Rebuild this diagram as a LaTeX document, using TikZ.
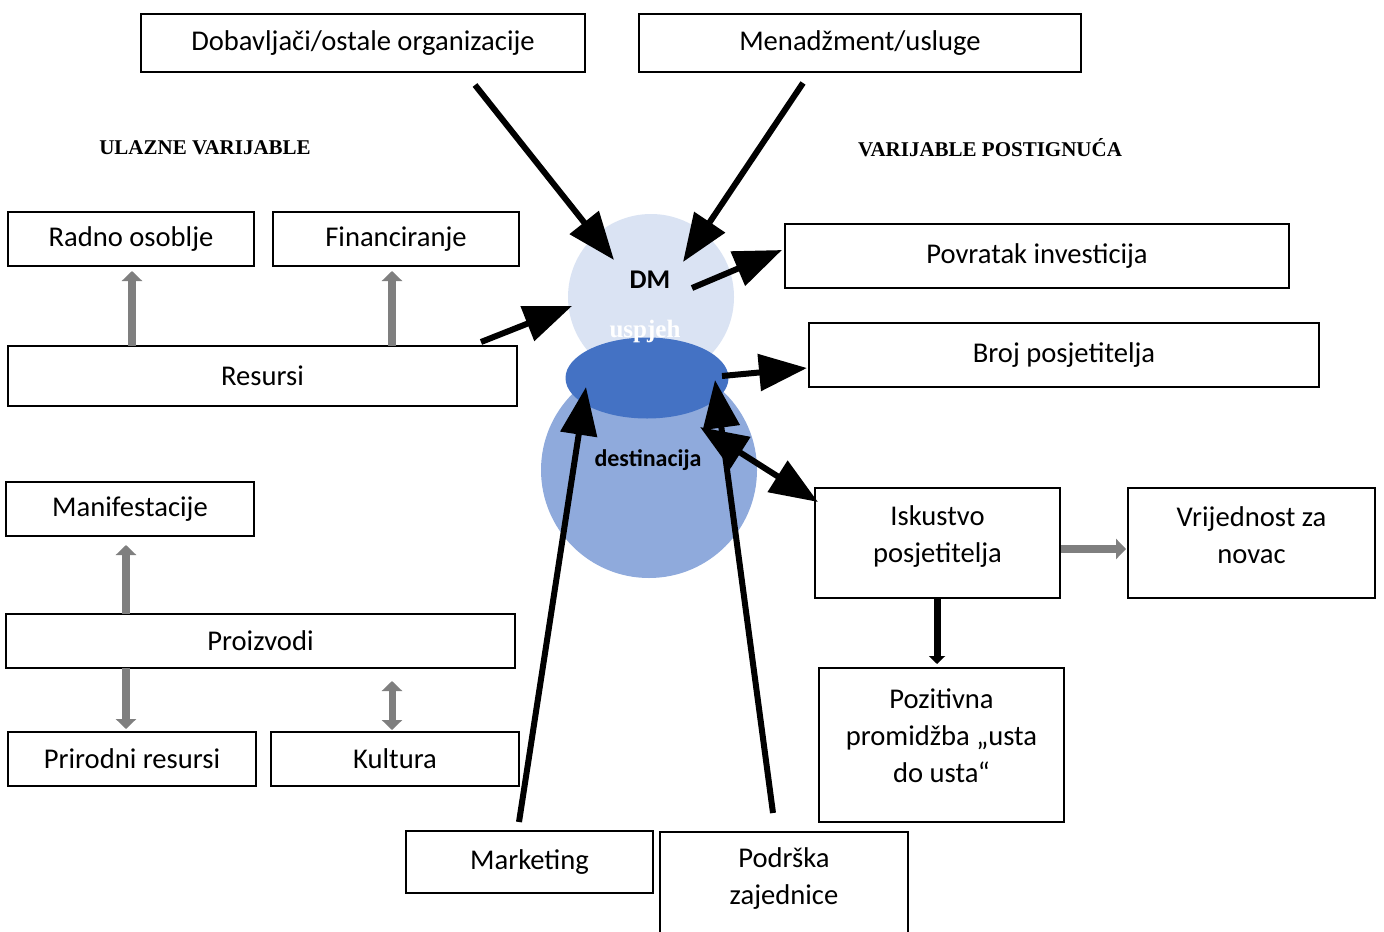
\documentclass[tikz,border=0pt]{standalone}
\usepackage{fontspec}
\setmainfont{Carlito}
\newfontfamily\headfont{Liberation Serif}
\usetikzlibrary{arrows.meta,shapes.geometric}
\definecolor{lightc}{HTML}{DAE3F3}
\definecolor{midc}{HTML}{8FAADC}
\definecolor{darkc}{HTML}{4472C4}
\definecolor{grayarr}{HTML}{7F7F7F}
\begin{document}
\begin{tikzpicture}[x=0.5pt,y=-0.5pt,
  box/.style={draw=black, line width=0.75pt, inner sep=0pt, align=center, font=\fontsize{14.3}{18.5}\selectfont},
  txt/.style={inner sep=0pt, align=center, font=\fontsize{14.3}{18.5}\selectfont},
  headtxt/.style={inner sep=0pt, font=\headfont\bfseries\fontsize{10.5}{12}\selectfont},
  bigarr/.style={line width=3pt, -{Triangle[width=18pt,length=24pt]}},
  bigdbl/.style={line width=3pt, {Triangle[width=18pt,length=24pt]}-{Triangle[width=18pt,length=24pt]}},
  grayarrow/.style={draw=grayarr, line width=4pt, -{Triangle[width=10pt,length=5pt]}},
  graydbl/.style={draw=grayarr, line width=3.5pt, {Triangle[width=10pt,length=5pt]}-{Triangle[width=10pt,length=5pt]}},
  blackarrow/.style={draw=black, line width=3.5pt, -{Triangle[width=8pt,length=4pt]}}
]
\clip (0,0) rectangle (1384,931);

% central shapes
\node[circle, fill=lightc, minimum size=83pt, inner sep=0pt] (dmc) at (651,297) {};
\node[circle, fill=midc, minimum size=108pt, inner sep=0pt] (dest) at (649,470) {};
\node[ellipse, fill=darkc, minimum width=81.5pt, minimum height=40.5pt, inner sep=0pt] (usp) at (647,378) {};
\node[inner sep=0pt, font=\bfseries\fontsize{13.5}{15}\selectfont] (dmt) at (650,280) {DM};
\node[inner sep=0pt, text=white, font=\headfont\bfseries\fontsize{12.5}{14}\selectfont] (uspt) at (645,331) {uspjeh};
\node[inner sep=0pt, font=\bfseries\fontsize{12}{14}\selectfont] (destt) at (648,460) {destinacija};

% headings
\node[headtxt] (hin) at (205,148) {ULAZNE VARIJABLE};
\node[headtxt] (hout) at (990,148) {VARIJABLE POSTIGNUĆA};

% top boxes
\node[box, minimum width=222pt, minimum height=29pt] (dob) at (363,43) {Dobavljači/ostale organizacije};
\node[box, minimum width=221pt, minimum height=29pt] (men) at (860,43) {Menadžment/usluge};

% left boxes
\node[box, minimum width=123pt, minimum height=27pt] (radno) at (131,239) {Radno osoblje};
\node[box, minimum width=123pt, minimum height=27pt] (fin) at (396,239) {Financiranje};
\node[box, minimum width=254.5pt, minimum height=30pt] (res) at (262.5,376) {Resursi};
\node[box, minimum width=124pt, minimum height=27pt] (man) at (130,509) {Manifestacije};
\node[box, minimum width=254.5pt, minimum height=27pt] (proiz) at (260.5,641) {Proizvodi};
\node[box, minimum width=124pt, minimum height=27pt] (prir) at (132,759) {Prirodni resursi};
\node[box, minimum width=124pt, minimum height=27pt] (kult) at (395,759) {Kultura};

% bottom boxes
\node[box, minimum width=123.5pt, minimum height=31pt] (mkt) at (529.5,862) {Marketing};
\node[box, minimum width=124pt, minimum height=64pt] (pod) at (784,896) {};
\node[txt] (podt) at (784,879) {Podrška\\zajednice};

% right boxes
\node[box, minimum width=252pt, minimum height=32pt] (pov) at (1037,256) {Povratak investicija};
\node[box, minimum width=255pt, minimum height=32pt] (broj) at (1064,355) {Broj posjetitelja};
\node[box, minimum width=122.5pt, minimum height=55pt] (isk) at (937.5,543) {};
\node[txt] (iskt) at (937.5,537) {Iskustvo\\posjetitelja};
\node[box, minimum width=123.5pt, minimum height=55pt] (vri) at (1251.5,543) {};
\node[txt] (vrit) at (1251.5,535) {Vrijednost za\\novac};
\node[box, minimum width=122.5pt, minimum height=77pt] (poz) at (941.5,745) {};
\node[txt] (pozt) at (941.5,736) {Pozitivna\\promidžba „usta\\do usta“};

% coordinates for arrow ends
\coordinate (a1s) at (475,85);   \coordinate (a1e) at (614,260);
\coordinate (a2s) at (803,83);   \coordinate (a2e) at (683,262);
\coordinate (a3s) at (481,342);  \coordinate (a3e) at (572,306);
\coordinate (a4s) at (692,288);  \coordinate (a4e) at (782,250);
\coordinate (a5s) at (722,376);  \coordinate (a5e) at (807,368);
\coordinate (a6s) at (700,427);  \coordinate (a6e) at (818,502);
\coordinate (a7s) at (519,822);  \coordinate (a7e) at (586,387);
\coordinate (a8s) at (773,813);  \coordinate (a8e) at (715,380);

\coordinate (g1s) at (132,346);  \coordinate (g1e) at (132,271);
\coordinate (g2s) at (392,346);  \coordinate (g2e) at (392,271);
\coordinate (g3s) at (126,614);  \coordinate (g3e) at (126,545);
\coordinate (g4s) at (126,668);  \coordinate (g4e) at (126,729);
\coordinate (g5s) at (392,681);  \coordinate (g5e) at (392,730);
\coordinate (g6s) at (1061,549); \coordinate (g6e) at (1126,549);
\coordinate (b1s) at (937,598);  \coordinate (b1e) at (937,664);

% black arrows
\draw[bigarr] (a1s) -- (a1e);
\draw[bigarr] (a2s) -- (a2e);
\draw[bigarr] (a3s) -- (a3e);
\draw[bigarr] (a4s) -- (a4e);
\draw[bigarr] (a5s) -- (a5e);
\draw[bigdbl] (a6s) -- (a6e);
\draw[bigarr] (a7s) -- (a7e);
\draw[bigarr] (a8s) -- (a8e);

% gray arrows
\draw[grayarrow] (g1s) -- (g1e);
\draw[grayarrow] (g2s) -- (g2e);
\draw[grayarrow] (g3s) -- (g3e);
\draw[grayarrow] (g4s) -- (g4e);
\draw[graydbl] (g5s) -- (g5e);
\draw[grayarrow] (g6s) -- (g6e);
\draw[blackarrow] (b1s) -- (b1e);
\end{tikzpicture}
\end{document}
